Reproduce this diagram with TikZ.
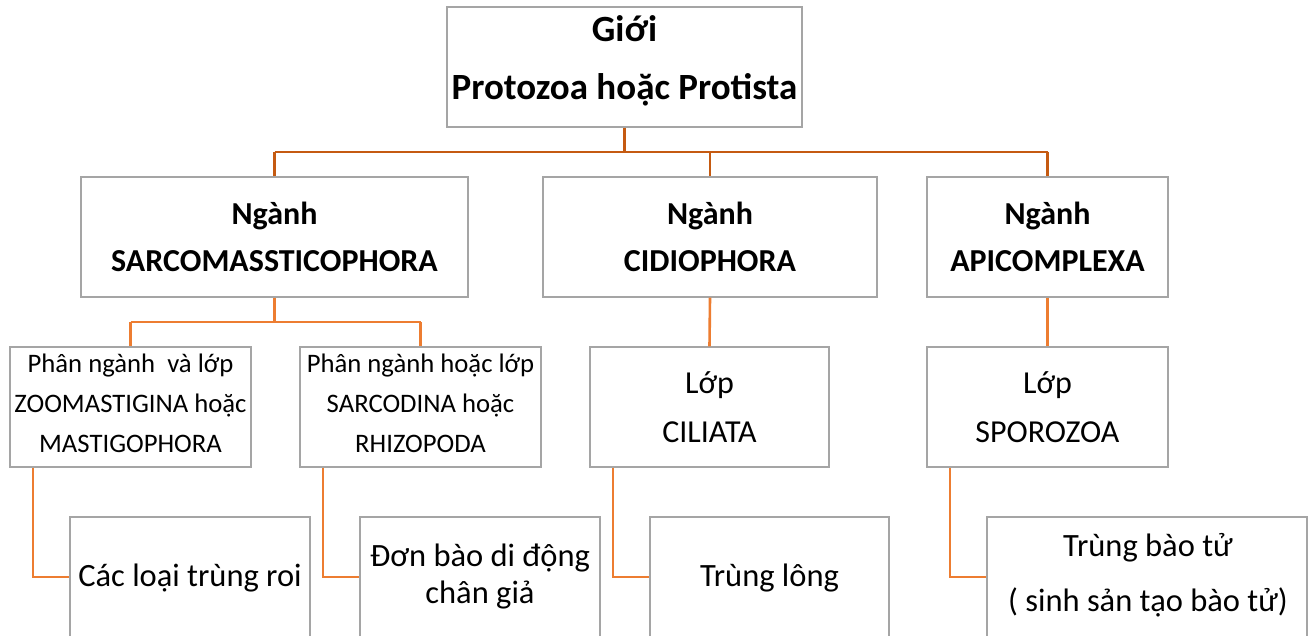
\documentclass[tikz,border=0pt]{standalone}
\usepackage{fontspec}
\setmainfont{Carlito}
\definecolor{boxgray}{RGB}{165,165,165}
\definecolor{linkdark}{RGB}{197,90,17}
\definecolor{linkorange}{RGB}{237,125,49}
\begin{document}
\begin{tikzpicture}[x=1pt,y=-1pt,
  box/.style={draw=boxgray, line width=1.4pt, fill=white, rectangle, inner sep=0pt, minimum height=120pt},
  wbox/.style={box, minimum width=#1},
  linktop/.style={draw=linkdark, line width=2.6pt},
  link/.style={draw=linkorange, line width=2.6pt},
  ttop/.style={font=\bfseries\fontsize{37}{58}\selectfont, align=center, inner sep=0pt},
  tphyl/.style={font=\bfseries\fontsize{32}{47}\selectfont, align=center, inner sep=0pt},
  tsub/.style={font=\fontsize{26.7}{40}\selectfont, align=center, inner sep=0pt},
  tcls/.style={font=\fontsize{32}{49}\selectfont, align=center, inner sep=0pt},
  tleaf/.style={font=\fontsize{32.5}{37}\selectfont, align=center, inner sep=0pt},
  tleafw/.style={font=\fontsize{32.5}{55}\selectfont, align=center, inner sep=0pt}]
\clip (0,0) rectangle (1312,635);
\fill[white] (0,0) rectangle (1312,635);

% boxes
\node[wbox=355pt] (top) at (624.5,67) {};
\node[wbox=387pt] (sarco) at (274.5,237) {};
\node[wbox=334pt] (cidio) at (710,237) {};
\node[wbox=241pt] (apic) at (1047.5,237) {};
\node[wbox=241pt] (zoo) at (130.5,407) {};
\node[wbox=241pt] (sarcod) at (420.5,407) {};
\node[wbox=239pt] (cil) at (709.5,407) {};
\node[wbox=241pt] (spo) at (1047.5,407) {};
\node[wbox=240pt] (flag) at (190,577) {};
\node[wbox=240pt] (pseudo) at (480,577) {};
\node[wbox=239pt] (cilia) at (769.5,577) {};
\node[wbox=320pt] (spore) at (1147,577) {};

% texts
\node[ttop] (ttopt) at (624.5,61) {Giới\\Protozoa hoặc Protista};
\node[tphyl] (tsarco) at (274.5,237) {Ngành\\SARCOMASSTICOPHORA};
\node[tphyl] (tcidio) at (710,237) {Ngành\\CIDIOPHORA};
\node[tphyl] (tapic) at (1047.5,237) {Ngành\\APICOMPLEXA};
\node[tsub] (tzoo) at (130.5,403) {Phân ngành~ và lớp\\ZOOMASTIGINA hoặc\\MASTIGOPHORA};
\node[tsub] (tsarcod) at (420.5,403) {Phân ngành hoặc lớp\\SARCODINA hoặc\\RHIZOPODA};
\node[tcls] (tcil) at (709.5,407) {Lớp\\CILIATA};
\node[tcls] (tspo) at (1047.5,407) {Lớp\\SPOROZOA};
\node[tleaf] (tflag) at (190,578) {Các loại trùng roi};
\node[tleaf] (tpseudo) at (480,577) {Đơn bào di động\\chân giả};
\node[tleaf] (tcilia) at (769.5,578) {Trùng lông};
\node[tleafw] (tspore) at (1148,575) {Trùng bào tử\\( sinh sản tạo bào tử)};

% connectors
\coordinate (j0) at (624.5,152);
\coordinate (j1) at (274.5,322);
\draw[linktop] (top.south) -- (j0);
\draw[linktop] (sarco.north |- j0) -- (apic.north |- j0);
\draw[linktop] (sarco.north |- j0) -- (sarco.north);
\draw[linktop] (cidio.north |- j0) -- (cidio.north);
\draw[linktop] (apic.north |- j0) -- (apic.north);
\draw[link] (sarco.south) -- (j1);
\draw[link] (zoo.north |- j1) -- (sarcod.north |- j1);
\draw[link] (zoo.north |- j1) -- (zoo.north);
\draw[link] (sarcod.north |- j1) -- (sarcod.north);
\draw[link] (cidio.south) -- (cil.north);
\draw[link] (apic.south) -- (spo.north);
\draw[link] ([xshift=23.5pt]zoo.south west) |- (flag.west);
\draw[link] ([xshift=23.5pt]sarcod.south west) |- (pseudo.west);
\draw[link] ([xshift=23.5pt]cil.south west) |- (cilia.west);
\draw[link] ([xshift=23.5pt]spo.south west) |- (spore.west);
\end{tikzpicture}
\end{document}
